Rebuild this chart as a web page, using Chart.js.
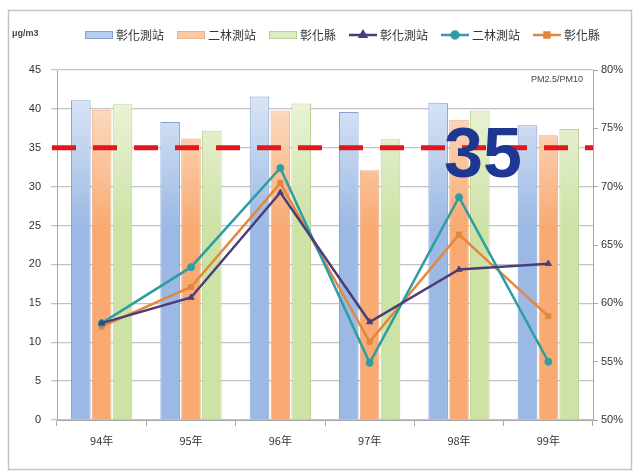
<!DOCTYPE html>
<html>
<head>
<meta charset="utf-8">
<script src="https://cdn.jsdelivr.net/npm/chart.js@4.4.0/dist/chart.umd.min.js"></script>
<style>
  html, body { margin: 0; padding: 0; background: #fff; }
  #wrap { position: relative; width: 639px; height: 474px; }
</style>
</head>
<body>
<div id="wrap"><canvas id="chart" width="639" height="474"></canvas></div>
<script>
// data
const years = ['94年', '95年', '96年', '97年', '98年', '99年'];
const seriesNames = ['彰化測站', '二林測站', '彰化縣'];
const pm25Changhua = [41.1, 38.3, 41.6, 39.6, 40.8, 37.9];
const pm25Erlin = [39.9, 36.2, 39.8, 32.1, 38.6, 36.6];
const pm25County = [40.6, 37.2, 40.7, 36.1, 39.8, 37.4];
const ratioChanghua = [58.3, 60.5, 69.5, 58.4, 62.9, 63.4];
const ratioErlin = [58.3, 63.1, 71.6, 54.9, 69.1, 55.0];
const ratioCounty = [58.0, 61.4, 70.3, 56.7, 65.9, 58.9];
const standardValue = 35;
const unitLabel = 'μg/m3';
const ratioLabel = 'PM2.5/PM10';

const CJK = '"Noto Sans CJK TC", "Noto Sans", sans-serif';

// vertical gradient for the Excel-like bars
function barFill(top, bottom) {
    return (c) => {
        const area = c.chart.chartArea;
        if (!area) return bottom;
        const g = c.chart.ctx.createLinearGradient(0, area.top, 0, area.bottom);
        g.addColorStop(0, top);
        g.addColorStop(0.45, bottom);
        g.addColorStop(1, bottom);
        return g;
    };
}

// white card with a thin grey frame
const framePlugin = {
    id: 'frame',
    beforeDraw(chart) {
        const ctx = chart.ctx;
        ctx.save();
        ctx.fillStyle = '#fff';
        ctx.fillRect(0, 0, chart.width, chart.height);
        ctx.strokeStyle = '#c4c4c4';
        ctx.lineWidth = 1.5;
        ctx.strokeRect(8.5, 10.5, 623, 459);
        ctx.restore();
    }
};

// red 35 standard line, big "35" and the small texts
const annotatePlugin = {
    id: 'annotate',
    afterDatasetsDraw(chart) {
        const ctx = chart.ctx;
        const area = chart.chartArea;
        const yScale = chart.scales.y;
        const xScale = chart.scales.x;
        const y35 = yScale.getPixelForValue(standardValue);
        ctx.save();
        ctx.strokeStyle = '#e3161c';
        ctx.lineWidth = 5;
        ctx.setLineDash([24, 17]);
        ctx.beginPath();
        ctx.moveTo(area.left - 5, y35);
        ctx.lineTo(area.right, y35);
        ctx.stroke();
        ctx.setLineDash([]);

        ctx.fillStyle = '#1d3792';
        ctx.font = 'bold 70px "Liberation Sans", Arial, sans-serif';
        ctx.textAlign = 'center';
        ctx.textBaseline = 'alphabetic';
        ctx.fillText(String(standardValue), xScale.getPixelForValue(4) + 24, y35 + 29);

        ctx.fillStyle = '#444';
        ctx.font = '9px "Liberation Sans", Arial, sans-serif';
        ctx.textAlign = 'right';
        ctx.fillText(ratioLabel, area.right - 10, area.top + 12);

        ctx.textAlign = 'left';
        ctx.font = 'bold 9px "Liberation Sans", Arial, sans-serif';
        ctx.fillText(unitLabel, 12, 36);
        ctx.restore();
    }
};

// legend drawn by hand so bar and line keys sit on one row like the original
const legendPlugin = {
    id: 'rowLegend',
    afterDraw(chart) {
        const ctx = chart.ctx;
        const H = Chart.helpers;
        let x = 85;
        const y = 35;
        ctx.save();
        ctx.font = '12px ' + CJK;
        ctx.textBaseline = 'middle';
        ctx.textAlign = 'left';
        chart.data.datasets.forEach(ds => {
            if (ds.type === 'line') {
                ctx.strokeStyle = ds.borderColor;
                ctx.lineWidth = 2.5;
                ctx.beginPath();
                ctx.moveTo(x, y);
                ctx.lineTo(x + 28, y);
                ctx.stroke();
                ctx.fillStyle = ds.borderColor;
                ctx.strokeStyle = ds.borderColor;
                H.drawPoint(ctx, { pointStyle: ds.pointStyle, radius: 3.5, rotation: 0, borderWidth: 1 }, x + 14, y);
            } else {
                ctx.fillStyle = ds.legendColor;
                ctx.fillRect(x, y - 4, 28, 8);
                ctx.strokeStyle = ds.borderColor;
                ctx.lineWidth = 1;
                ctx.strokeRect(x + 0.5, y - 3.5, 27, 7);
            }
            x += 31;
            ctx.fillStyle = '#333';
            ctx.fillText(ds.label, x, y);
            x += ctx.measureText(ds.label).width + 13;
        });
        ctx.restore();
    }
};

const barCommon = { type: 'bar', yAxisID: 'y', order: 2, borderWidth: 1, barPercentage: 0.94, categoryPercentage: 0.7 };
const lineCommon = { type: 'line', yAxisID: 'y1', order: 1, borderWidth: 2.5, pointRadius: 3.5, pointBorderWidth: 1, tension: 0, fill: false };

new Chart(document.getElementById('chart'), {
    data: {
        labels: years,
        datasets: [
            { ...barCommon, label: seriesNames[0], data: pm25Changhua,
              backgroundColor: barFill('#e6eef9', '#9bb9e4'), borderColor: '#85a3d0', legendColor: '#b7cdee' },
            { ...barCommon, label: seriesNames[1], data: pm25Erlin,
              backgroundColor: barFill('#fde9d8', '#f8aa72'), borderColor: '#eab08a', legendColor: '#fbc9a4' },
            { ...barCommon, label: seriesNames[2], data: pm25County,
              backgroundColor: barFill('#f1f7e3', '#cde2a5'), borderColor: '#bcd195', legendColor: '#dcebc2' },
            { ...lineCommon, label: seriesNames[0], data: ratioChanghua,
              borderColor: '#4b3d7c', backgroundColor: '#4b3d7c', pointStyle: 'triangle' },
            { ...lineCommon, label: seriesNames[1], data: ratioErlin,
              borderColor: '#2f9ea4', backgroundColor: '#2f9ea4', pointStyle: 'circle' },
            { ...lineCommon, label: seriesNames[2], data: ratioCounty,
              borderColor: '#e2873c', backgroundColor: '#e2873c', pointStyle: 'rect' }
        ]
    },
    options: {
        responsive: false,
        animation: false,
        layout: { padding: { top: 70, left: 0, right: 0, bottom: 0 } },
        plugins: {
            legend: { display: false },
            tooltip: { enabled: false }
        },
        scales: {
            x: {
                grid: { display: true, drawOnChartArea: false, offset: true, tickLength: 6, color: '#a8a8a8' },
                border: { color: '#a8a8a8' },
                ticks: { color: '#333', padding: 8, font: { family: CJK, size: 11 } },
                afterFit(scale) { scale.height = 54; }
            },
            y: {
                position: 'left',
                min: 0, max: 45,
                ticks: { stepSize: 5, color: '#333', padding: 10, font: { family: '"Liberation Sans", Arial', size: 11 } },
                grid: { color: '#c3c3c3', lineWidth: 1.3, tickLength: 6 },
                border: { color: '#a8a8a8' },
                afterFit(scale) { scale.width = 57; }
            },
            y1: {
                position: 'right',
                min: 50, max: 80,
                ticks: { stepSize: 5, color: '#333', padding: 3, callback: v => v + '%', font: { family: '"Liberation Sans", Arial', size: 11 } },
                grid: { drawOnChartArea: false, tickLength: 5, color: '#a8a8a8' },
                border: { color: '#a8a8a8' },
                afterFit(scale) { scale.width = 46; }
            }
        }
    },
    plugins: [framePlugin, annotatePlugin, legendPlugin]
});
</script>
</body>
</html>
